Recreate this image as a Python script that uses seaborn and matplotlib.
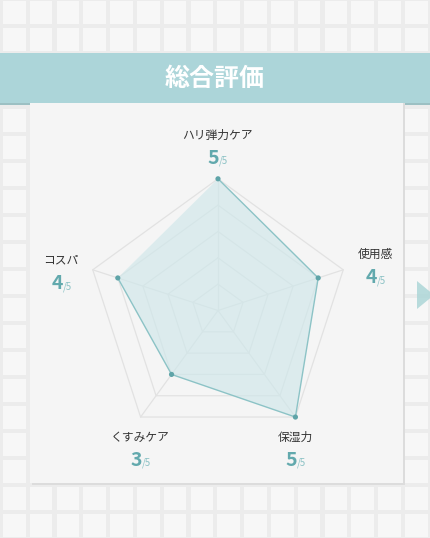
import numpy as np
import matplotlib
matplotlib.use('Agg')
import matplotlib.pyplot as plt
from matplotlib.patches import Rectangle, Polygon
import seaborn as sns

# data
categories = ['ハリ弾力ケア', '使用感', '保湿力', 'くすみケア', 'コスパ']
scores = [5, 4, 5, 3, 4]
max_score = 5
title = '総合評価'

# colours
teal_band = '#acd5d9'
teal_num = '#62a9ad'
teal_sub = '#8cc2c5'
fill_col = '#cfe7ea'
edge_col = '#8cc3c6'
dot_col = '#5fa4a8'
grid_col = '#e2e2e2'

sns.set_theme(style='white')
plt.rcParams['font.family'] = ['Noto Sans CJK JP', 'DejaVu Sans']

W, H = 430, 538
fig = plt.figure(figsize=(W / 100, H / 100), dpi=100)

# background axes in pixel units (origin top-left)
bg = fig.add_axes([0, 0, 1, 1])
bg.set_xlim(0, W)
bg.set_ylim(H, 0)
bg.axis('off')
bg.add_patch(Rectangle((0, 0), W, H, color='#ececec', zorder=0))
for row in range(21):
    for col in range(17):
        bg.add_patch(Rectangle((3 + col * 26.8, 1 + row * 27), 22.5, 23,
                               color='#f7f7f7', zorder=1, lw=0))

# banner
bg.add_patch(Rectangle((0, 55), W, 50, color='#9cc0c3', zorder=2, lw=0))
bg.add_patch(Rectangle((0, 53), W, 50, color=teal_band, zorder=3, lw=0))
bg.text(W / 2, 79, title, color='white', fontsize=18, fontweight='bold',
        ha='center', va='center', zorder=4)

# card with soft shadow
bg.add_patch(Rectangle((32, 103), 373, 382, color='#dcdcdc', zorder=2, lw=0))
bg.add_patch(Rectangle((30, 103), 373, 380, color='#f5f5f5', zorder=3, lw=0))

# arrow at right edge
bg.add_patch(Polygon([(417, 281), (434, 295), (417, 309)], closed=True,
                     color='#a9d5d6', alpha=0.8, zorder=3, lw=0))

# labels (pixel layout)
label_pos = [(217, 135), (375, 254), (295, 437), (140, 437), (61, 260)]
num_gap = 23
for name, s, (lx, ly) in zip(categories, scores, label_pos):
    bg.text(lx, ly, name, fontsize=8.5, color='#333333', ha='center',
            va='center', zorder=5)
    by = ly + num_gap + 6
    bg.text(lx + 2, by, str(s), fontsize=14, fontweight='bold', color=teal_num,
            ha='right', va='baseline', zorder=5)
    bg.text(lx + 2, by, f'/{max_score}', fontsize=7, color=teal_sub,
            ha='left', va='baseline', zorder=5)

# radar axes: centre at (218, 310.5) px, 26.34 px per unit
cx, cy, unit = 218, 310.5, 26.34
half = 6
size_px = 2 * half * unit
ax = fig.add_axes([(cx - half * unit) / W, (H - cy - half * unit) / H,
                   size_px / W, size_px / H])
ax.set_xlim(-half, half)
ax.set_ylim(-half, half)
ax.axis('off')
ax.patch.set_alpha(0)

theta = np.arange(len(categories)) * 2 * np.pi / len(categories)
ux, uy = np.sin(theta), np.cos(theta)

# grid rings and spokes
for r in range(1, max_score + 1):
    ax.plot(np.append(ux, ux[0]) * r, np.append(uy, uy[0]) * r,
            color=grid_col, lw=0.9, zorder=1)
for x0, y0 in zip(ux, uy):
    ax.plot([0, x0 * max_score], [0, y0 * max_score], color=grid_col,
            lw=0.9, zorder=1)

vals = np.array(scores, dtype=float)
px, py = ux * vals, uy * vals
ax.fill(px, py, color=fill_col, alpha=0.65, zorder=2, lw=0)
sns.lineplot(x=np.append(px, px[0]), y=np.append(py, py[0]), sort=False,
             color=edge_col, lw=1, ax=ax, zorder=3)
sns.scatterplot(x=px, y=py, color=dot_col, s=14, edgecolor='none', ax=ax,
                zorder=4)

fig.savefig('out.png', dpi=100)
